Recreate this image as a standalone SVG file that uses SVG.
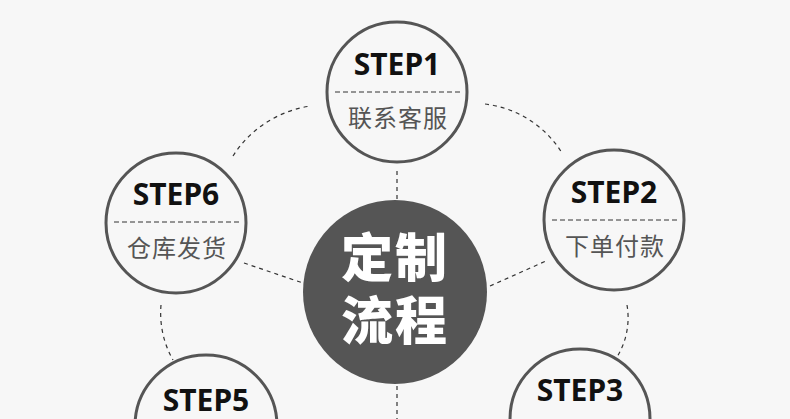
<svg xmlns="http://www.w3.org/2000/svg" width="790" height="419" viewBox="0 0 790 419">
<style>
.step{fill:#f7f7f7;stroke:#555;stroke-width:3}
.lbl{font-family:"Noto Sans","Liberation Sans",sans-serif;font-weight:bold;font-size:30px;fill:#111;text-anchor:middle}
.cn{font-family:"Noto Sans CJK SC",sans-serif;font-size:24px;fill:#555;text-anchor:middle;letter-spacing:1px}
.sep{stroke:#333;stroke-width:1;stroke-dasharray:5 3;fill:none}
.con{stroke:#333;stroke-width:1.2;stroke-dasharray:4 4;fill:none}
.big{font-family:"Noto Sans CJK SC",sans-serif;font-weight:900;font-size:52px;fill:#fff;text-anchor:middle;letter-spacing:2px}
</style>
<rect width="790" height="419" fill="#f7f7f7"/>
<g id="connectors">
<path class="con" d="M233,156 A110,110 0 0 1 311,106"/>
<path class="con" d="M485,104 A105,105 0 0 1 562,153"/>
<path class="con" d="M161,305 A95,95 0 0 0 173,360"/>
<path class="con" d="M627,305 A75,75 0 0 1 617,357"/>
<path class="con" d="M397,171 L397,199"/>
<path class="con" d="M244,263 L303,283"/>
<path class="con" d="M490,286 L546,261"/>
<path class="con" d="M397,386 L397,419"/>
</g>
<g id="center">
<circle cx="395" cy="292" r="92" fill="#555"/>
<text class="big" x="395" y="277">定制<tspan x="395" dy="63">流程</tspan></text>
</g>
<g id="step1">
<circle class="step" cx="397" cy="92" r="70"/>
<text class="lbl" x="397" y="75">STEP1</text>
<line class="sep" x1="335" y1="92" x2="460" y2="92"/>
<text class="cn" x="398" y="127">联系客服</text>
</g>
<g id="step2">
<circle class="step" cx="614" cy="220" r="70"/>
<text class="lbl" x="614" y="203">STEP2</text>
<line class="sep" x1="552" y1="220" x2="677" y2="220"/>
<text class="cn" x="615" y="255">下单付款</text>
</g>
<g id="step3">
<circle class="step" cx="580" cy="419" r="70"/>
<text class="lbl" x="580" y="401">STEP3</text>
</g>
<g id="step5">
<circle class="step" cx="206" cy="426" r="71"/>
<text class="lbl" x="206" y="411">STEP5</text>
</g>
<g id="step6">
<circle class="step" cx="176" cy="223" r="70"/>
<text class="lbl" x="176" y="205">STEP6</text>
<line class="sep" x1="114" y1="222" x2="239" y2="222"/>
<text class="cn" x="177" y="257">仓库发货</text>
</g>
</svg>
